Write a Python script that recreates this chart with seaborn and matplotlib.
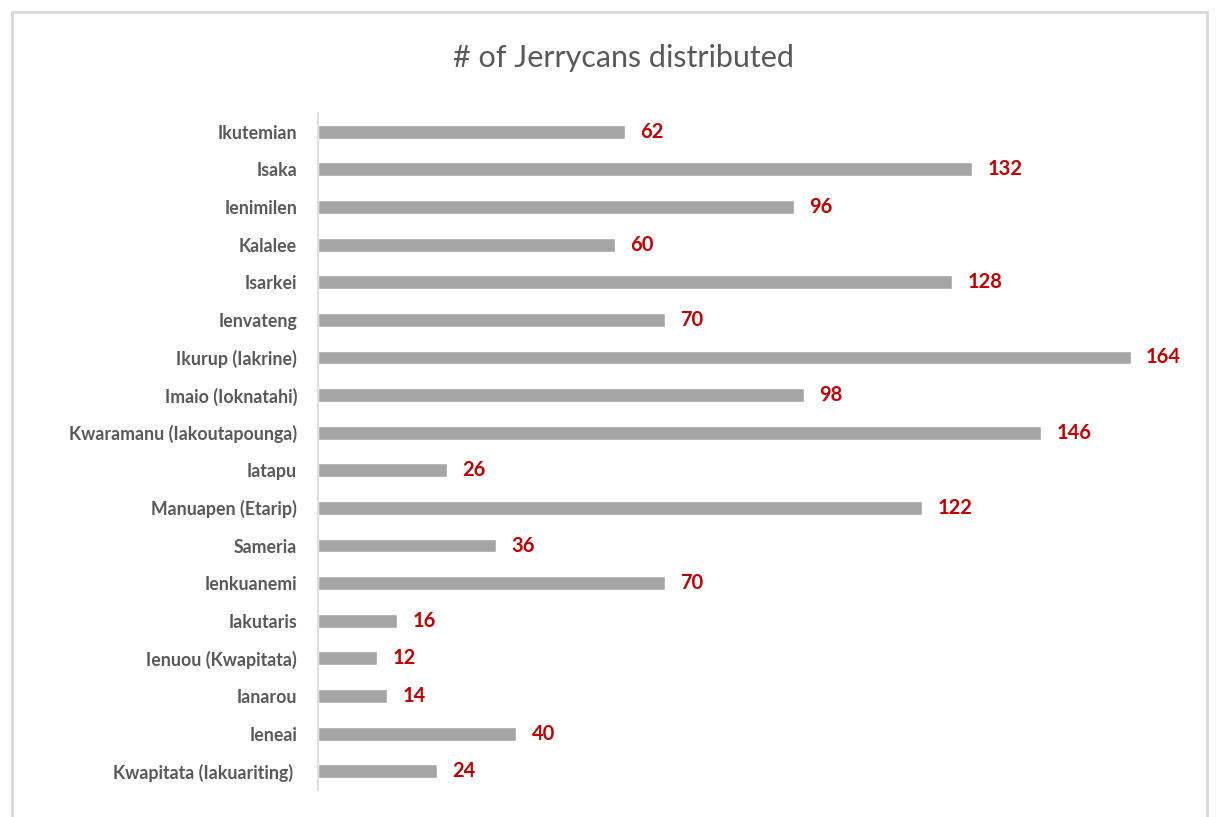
import numpy as np
import pandas as pd
import seaborn as sns
import matplotlib.pyplot as plt
from matplotlib.patches import Rectangle

# ==== Data ====
villages = [
    "Ikutemian", "Isaka", "Ienimilen", "Kalalee", "Isarkei", "Ienvateng",
    "Ikurup (Iakrine)", "Imaio (Ioknatahi)", "Kwaramanu (Iakoutapounga)",
    "Iatapu", "Manuapen (Etarip)", "Sameria", "Ienkuanemi", "Iakutaris",
    "Ienuou (Kwapitata)", "Ianarou", "Ieneai", "Kwapitata (Iakuariting) ",
]
jerrycans = [62, 132, 96, 60, 128, 70, 164, 98, 146, 26, 122, 36, 70, 16, 12, 14, 40, 24]

df = pd.DataFrame({"village": villages, "count": jerrycans})

# ==== Plot ====
sns.set_theme(style="white")
plt.rcParams['font.family'] = ['Lato', 'DejaVu Sans']

W, H = 1217, 817
fig = plt.figure(figsize=(W / 100, H / 100), dpi=100)
ax = fig.add_axes([318 / W, 1 - 790 / H, (1190 - 318) / W, (790 - 113) / H])

sns.barplot(data=df, x="count", y="village", color="#A5A5A5", saturation=1,
            width=0.37, orient="h", ax=ax)

ax.set_xlim(0, 176)
ax.set_ylim(len(villages) - 0.5, -0.5)
ax.set_xlabel("")
ax.set_ylabel("")
ax.set_xticks([])
for s in ["top", "right", "bottom"]:
    ax.spines[s].set_visible(False)
ax.spines["left"].set_color("#D9D9D9")
ax.spines["left"].set_linewidth(1.2)
ax.tick_params(axis="y", length=0, pad=15)
for lbl in ax.get_yticklabels():
    lbl.set_fontsize(12.8)
    lbl.set_fontweight("bold")
    lbl.set_color("#595959")

for cont in ax.containers:
    labels = ax.bar_label(cont, padding=11, fontsize=14.5, fontweight="bold", color="#C00000")
    for t in labels:
        t.set_va("center")

fig.text(623 / W, 1 - 58 / H, "# of Jerrycans distributed", ha="center", va="center",
         fontsize=22, color="#595959")

fig.patches.append(Rectangle((12 / W, -0.01), (1207 - 12) / W, 1 - 12 / H + 0.01,
                             transform=fig.transFigure, fill=False,
                             edgecolor="#D9D9D9", linewidth=2))

fig.savefig("out.png", dpi=100)
